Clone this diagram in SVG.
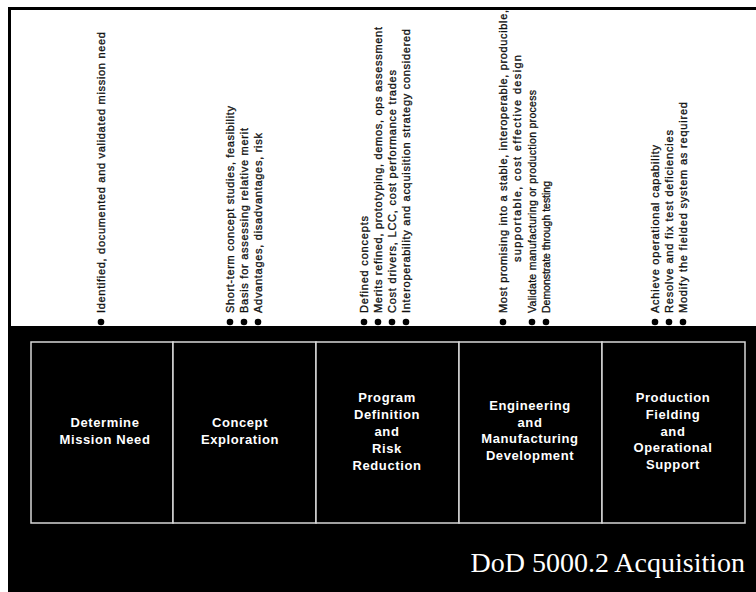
<svg xmlns="http://www.w3.org/2000/svg" width="756" height="592" viewBox="0 0 756 592">
  <style>
    .note { font-family: "Liberation Sans", Arial, sans-serif; font-size: 11px; fill: #111; stroke: #111; stroke-width: 0.3; }
    .small { font-size: 10.5px; }
    .bullet { fill: #000; }
    .phase { fill: #000; stroke: #d6d6d6; stroke-width: 1.5; }
    .label { font-family: "Liberation Sans", Arial, sans-serif; font-size: 13px; font-weight: bold; fill: #fff; text-anchor: middle; letter-spacing: 0.6px; }
    .title { font-family: "Liberation Serif", "Times New Roman", serif; font-size: 28px; fill: #fff; text-anchor: end; }
  </style>

  <!-- page frame -->
  <rect x="0" y="0" width="756" height="592" fill="#fff"/>
  <rect x="8" y="7" width="748" height="3" fill="#000"/>
  <rect x="8" y="7" width="3" height="320" fill="#000"/>
  <!-- dark lower band -->
  <rect x="8" y="326" width="748" height="266" fill="#000"/>

  <!-- Phase 1 -->
  <g id="determine-mission-need">
    <circle class="bullet" cx="101" cy="322" r="3.3"/>
    <text class="note" transform="translate(104.5,313) rotate(-90)" textLength="281" lengthAdjust="spacing">Identified, documented and validated mission need</text>
    <rect class="phase" x="31" y="342" width="142" height="181"/>
    <text class="label" x="105" y="427">Determine</text>
    <text class="label" x="105" y="444">Mission Need</text>
  </g>

  <!-- Phase 2 -->
  <g id="concept-exploration">
    <circle class="bullet" cx="230" cy="322" r="3.3"/>
    <circle class="bullet" cx="244" cy="322" r="3.3"/>
    <circle class="bullet" cx="258" cy="322" r="3.3"/>
    <text class="note" transform="translate(233.5,313) rotate(-90)" textLength="207" lengthAdjust="spacing">Short-term concept studies, feasibility</text>
    <text class="note" transform="translate(247.5,313) rotate(-90)" textLength="185" lengthAdjust="spacing">Basis for assessing relative merit</text>
    <text class="note" transform="translate(261.5,313) rotate(-90)" textLength="180" lengthAdjust="spacing">Advantages, disadvantages, risk</text>
    <rect class="phase" x="173" y="342" width="143" height="181"/>
    <text class="label" x="240" y="427">Concept</text>
    <text class="label" x="240" y="444">Exploration</text>
  </g>

  <!-- Phase 3 -->
  <g id="program-definition">
    <circle class="bullet" cx="364" cy="322" r="3.3"/>
    <circle class="bullet" cx="378" cy="322" r="3.3"/>
    <circle class="bullet" cx="392" cy="322" r="3.3"/>
    <circle class="bullet" cx="406" cy="322" r="3.3"/>
    <text class="note" transform="translate(367.5,313) rotate(-90)" textLength="97" lengthAdjust="spacing">Defined concepts</text>
    <text class="note" transform="translate(381.5,313) rotate(-90)" textLength="286" lengthAdjust="spacing">Merits refined, prototyping, demos, ops assessment</text>
    <text class="note" transform="translate(395.5,313) rotate(-90)" textLength="243" lengthAdjust="spacing">Cost drivers, LCC, cost performance trades</text>
    <text class="note" transform="translate(409.5,313) rotate(-90)" textLength="284" lengthAdjust="spacing">Interoperability and acquisition strategy considered</text>
    <rect class="phase" x="316" y="342" width="143" height="181"/>
    <text class="label" x="387" y="402">Program</text>
    <text class="label" x="387" y="419">Definition</text>
    <text class="label" x="387" y="436">and</text>
    <text class="label" x="387" y="453">Risk</text>
    <text class="label" x="387" y="470">Reduction</text>
  </g>

  <!-- Phase 4 -->
  <g id="engineering-manufacturing">
    <circle class="bullet" cx="503" cy="322" r="3.3"/>
    <circle class="bullet" cx="532" cy="322" r="3.3"/>
    <circle class="bullet" cx="546" cy="322" r="3.3"/>
    <text class="note" transform="translate(506.5,313) rotate(-90)" textLength="303" lengthAdjust="spacing">Most promising into a stable, interoperable, producible,</text>
    <text class="note" transform="translate(520.5,262) rotate(-90)" textLength="207" lengthAdjust="spacing">supportable, cost effective design</text>
    <text class="note small" transform="translate(535.5,313) rotate(-90)" textLength="223" lengthAdjust="spacing">Validate manufacturing or production process</text>
    <text class="note small" transform="translate(549.5,313) rotate(-90)" textLength="132" lengthAdjust="spacing">Demonstrate through testing</text>
    <rect class="phase" x="459" y="342" width="143" height="181"/>
    <text class="label" x="530" y="410">Engineering</text>
    <text class="label" x="530" y="427">and</text>
    <text class="label" x="530" y="443">Manufacturing</text>
    <text class="label" x="530" y="460">Development</text>
  </g>

  <!-- Phase 5 -->
  <g id="production-fielding">
    <circle class="bullet" cx="655" cy="322" r="3.3"/>
    <circle class="bullet" cx="669" cy="322" r="3.3"/>
    <circle class="bullet" cx="683" cy="322" r="3.3"/>
    <text class="note" transform="translate(658.5,313) rotate(-90)" textLength="168" lengthAdjust="spacing">Achieve operational capability</text>
    <text class="note" transform="translate(672.5,313) rotate(-90)" textLength="183" lengthAdjust="spacing">Resolve and fix test deficiencies</text>
    <text class="note" transform="translate(686.5,313) rotate(-90)" textLength="211" lengthAdjust="spacing">Modify the fielded system as required</text>
    <rect class="phase" x="602" y="342" width="143" height="181"/>
    <text class="label" x="673" y="402">Production</text>
    <text class="label" x="673" y="419">Fielding</text>
    <text class="label" x="673" y="436">and</text>
    <text class="label" x="673" y="452">Operational</text>
    <text class="label" x="673" y="469">Support</text>
  </g>

  <g id="connectors"/>

  <text class="title" x="745" y="572">DoD 5000.2 Acquisition</text>
</svg>
